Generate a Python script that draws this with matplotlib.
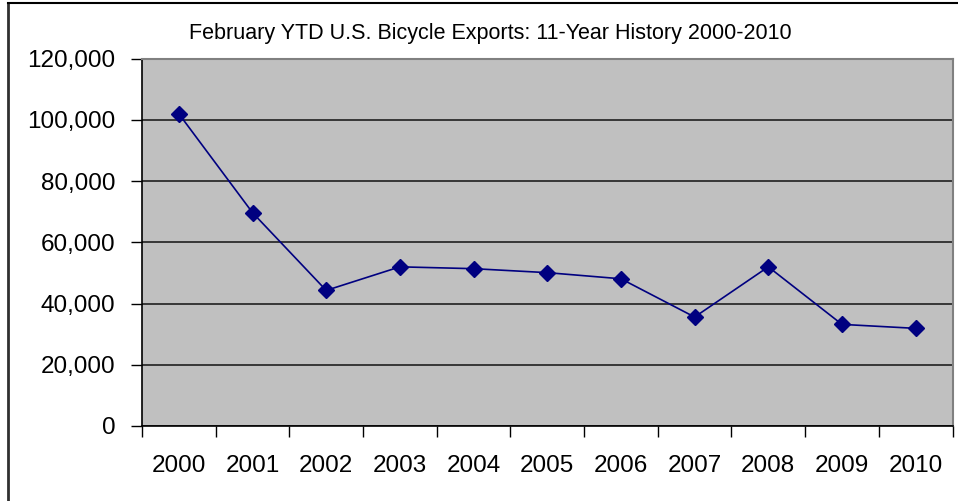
import numpy as np
import matplotlib
matplotlib.use("Agg")
import matplotlib.pyplot as plt
from matplotlib.lines import Line2D
from matplotlib.ticker import FuncFormatter

# Datos ----------------------------------
years = ["2000", "2001", "2002", "2003", "2004", "2005",
         "2006", "2007", "2008", "2009", "2010"]
exports = [102000, 69700, 44300, 52000, 51400, 50100,
           48100, 35600, 52000, 33200, 31900]

plt.rcParams["font.family"] = ["Liberation Sans", "DejaVu Sans"]

fig = plt.figure(figsize=(9.58, 5.01), dpi=100, facecolor="white")
ax = fig.add_axes([142/958, 1 - 426/501, (952.5 - 142)/958, (426 - 58.7)/501])
ax.set_facecolor("#C0C0C0")

x = np.arange(len(years))
ax.plot(x, exports, color="#000080", lw=1.2, marker="D", ms=8,
        mfc="#000080", mec="#000080", zorder=3)

ax.set_xlim(-0.5, len(years) - 0.5)
ax.set_ylim(0, 120000)
ax.set_yticks(np.arange(0, 120001, 20000))
ax.yaxis.set_major_formatter(FuncFormatter(lambda v, p: f"{int(v):,}"))
ax.grid(axis="y", color="#202020", lw=1.2)
ax.set_axisbelow(True)

# ticks entre categorias
ax.set_xticks(np.arange(-0.5, len(years), 1))
ax.set_xticklabels([])
ax.set_xticks(x, minor=True)
ax.set_xticklabels(years, minor=True, fontsize=17.5)
ax.tick_params(axis="x", which="major", length=8, width=1, color="black", direction="out")
ax.tick_params(axis="x", which="minor", length=0, pad=21)
ax.tick_params(axis="y", length=8, width=1, labelsize=17.5, pad=11)

for s in ["top", "right"]:
    ax.spines[s].set_color("#808080")
    ax.spines[s].set_linewidth(1.5)
for s in ["left", "bottom"]:
    ax.spines[s].set_color("black")
    ax.spines[s].set_linewidth(1.2)

fig.text(490/958, 1 - 33/501, "February YTD U.S. Bicycle Exports: 11-Year History 2000-2010",
         ha="center", va="center", fontsize=15.5)

# marco exterior (solo arriba e izquierda visibles)
fig.add_artist(Line2D([7.5/958, 7.5/958], [0, 1 - 3/501], transform=fig.transFigure,
                      color="#303030", lw=2))
fig.add_artist(Line2D([7.5/958, 1], [1 - 3/501, 1 - 3/501], transform=fig.transFigure,
                      color="black", lw=1.5))

fig.savefig("out.png", dpi=100)
